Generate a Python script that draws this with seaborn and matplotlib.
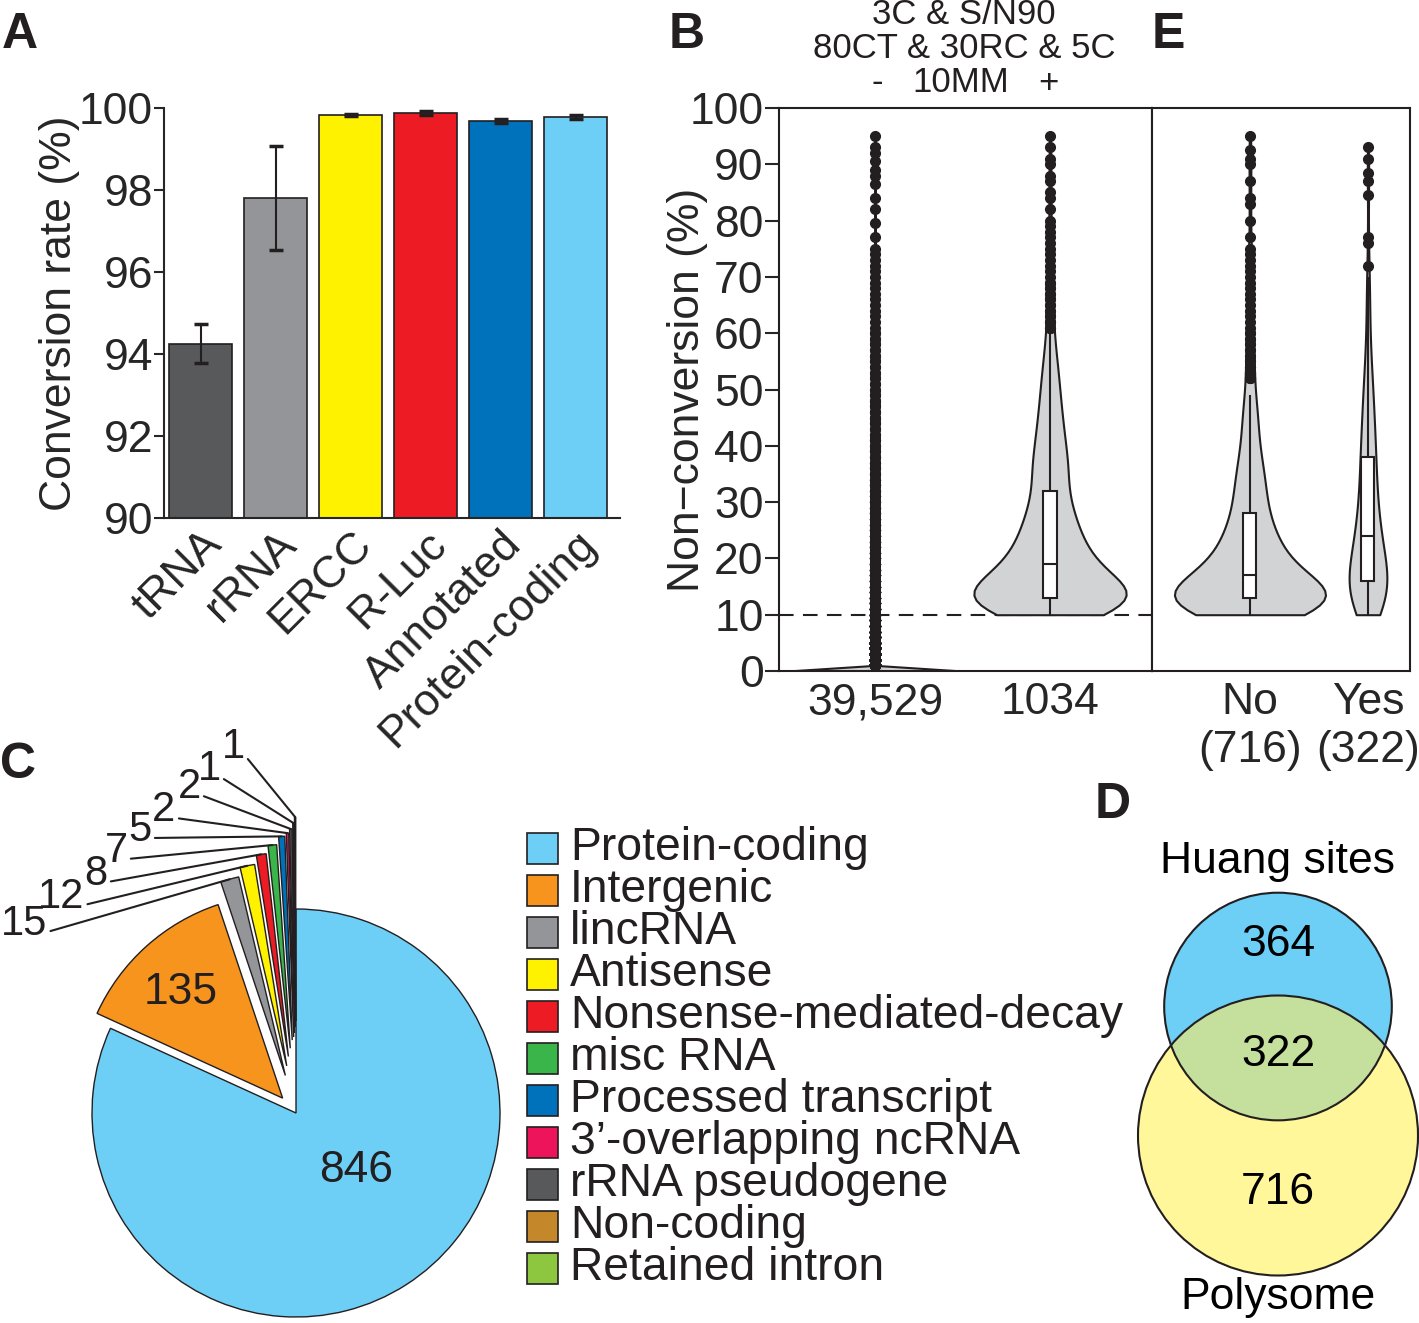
import numpy as np
import pandas as pd
import matplotlib

matplotlib.use("Agg")
import matplotlib.pyplot as plt
from matplotlib.patches import Circle, Rectangle
import seaborn as sns

# --- A: conversion rate per RNA class ---
conv_labels = ["tRNA", "rRNA", "ERCC", "R-Luc", "Annotated", "Protein-coding"]
conv_rate = [94.25, 97.8, 99.83, 99.88, 99.68, 99.78]
conv_err = [0.47, 1.27, 0.03, 0.04, 0.05, 0.05]
conv_colors = ["#58595b", "#939598", "#fff200", "#ed1c24", "#0072bc", "#6dcff6"]

# --- B: non-conversion (%) per site, binned counts ---
b_labels = ["39,529", "1034"]
b0_values = [0, 1, 2, 3, 4, 5, 6, 7, 8, 9, 10,
             11, 12, 13, 14, 15, 16, 17, 18, 19, 20,
             21, 22, 23, 24, 25, 26, 27, 28, 29, 30,
             31, 32, 33, 34, 35, 36, 37, 38, 39, 40,
             41, 42, 43, 44, 45, 46, 47, 48, 49, 50,
             51, 52, 53, 54, 55, 56, 57, 58, 59, 60,
             61, 62, 63, 64, 65, 66, 67, 68, 69, 70,
             71, 72, 73, 74, 75, 77, 79.5, 82, 84, 86.5, 88, 89, 90.5, 92, 93, 95]
b0_counts = [36944, 620, 420, 300, 220, 160, 120, 95, 75, 60, 50,
             42, 36, 31, 27, 24, 21, 19, 17, 15, 14,
             13, 12, 11, 10, 9, 9, 8, 8, 7, 7,
             6, 6, 6, 5, 5, 5, 5, 4, 4, 4,
             4, 3, 3, 3, 3, 3, 3, 3, 2, 2,
             2, 2, 2, 2, 2, 2, 2, 2, 2, 2,
             1, 1, 1, 1, 1, 1, 1, 1, 1, 1,
             1, 1, 1, 1, 1, 1, 1, 1, 1, 1, 1, 1, 1, 1, 1, 1]
b1_values = [10, 11, 12, 13, 14, 15, 16, 17, 18, 19, 20, 21, 22, 23, 24, 25, 26, 27, 28, 29, 30, 31, 32,
             34, 36, 38, 40, 42, 44, 46, 48, 50, 52, 54, 56, 58,
             60, 61, 62, 63, 64, 65, 66, 67, 68, 69, 70, 71, 72, 73, 74, 75, 76, 77, 78, 79, 80,
             82, 84, 85, 87, 88, 90, 91, 93, 95]
b1_counts = [46, 70, 80, 75, 62, 52, 44, 38, 34, 30, 28, 26, 24, 22, 21, 20, 18, 17, 16, 15, 14, 13, 12,
             28, 25, 23, 21, 19, 17, 16, 14, 13, 12, 10, 9, 7,
             3, 3, 3, 2, 2, 2, 2, 2, 2, 2, 1, 1, 1, 1, 1, 1, 1, 1, 1, 1, 1,
             1, 1, 1, 1, 1, 1, 1, 1, 1]

# --- E: sites also found by Huang et al. (No / Yes) ---
e_labels = ["No\n(716)", "Yes\n(322)"]
e_no_values = [10, 11, 12, 13, 14, 15, 16, 17, 18, 19, 20, 21, 22, 23, 24, 25, 26, 27, 28,
               30, 32, 34, 36, 38, 40, 43, 46, 49,
               52, 53, 54, 55, 56, 57, 58, 59, 60, 61, 62, 63, 64, 65, 66, 67, 68, 69, 70, 71, 72, 73, 74, 75,
               77, 80, 83, 84, 87, 90, 91, 92.5, 95]
e_no_counts = [39, 55, 65, 62, 50, 40, 33, 27, 23, 22, 20, 18, 16, 15, 14, 13, 12, 11, 12,
               19, 17, 16, 14, 12, 11, 14, 12, 9,
               3, 3, 3, 2, 2, 2, 2, 2, 2, 1, 1, 1, 1, 1, 1, 1, 1, 1, 1, 1, 1, 1, 1, 1,
               1, 1, 1, 1, 1, 1, 1, 1, 1]
e_yes_values = [10, 12, 14, 16, 18, 20, 22, 24, 26, 28, 30, 32, 34, 36, 38, 40, 42, 44, 46, 48,
                50, 52, 54, 56, 58, 60, 62, 64, 66, 68, 70, 72, 76, 77, 84.5, 87, 88.5, 91, 93]
e_yes_counts = [16, 24, 30, 26, 21, 20, 18, 15, 13, 12, 11, 10, 10, 9, 9, 9, 8, 7, 7, 6,
                6, 5, 4, 3, 3, 2, 2, 2, 2, 2, 2, 1, 1, 1, 1, 1, 1, 1, 1]

# --- C: biotypes of the 1034 sites ---
biotypes = ["Protein-coding", "Intergenic", "lincRNA", "Antisense", "Nonsense-mediated-decay",
            "misc RNA", "Processed transcript", "3\u2019-overlapping ncRNA", "rRNA pseudogene",
            "Non-coding", "Retained intron"]
biotype_counts = [846, 135, 15, 12, 8, 7, 5, 2, 2, 1, 1]
biotype_colors = ["#6dcff6", "#f7941d", "#939598", "#fff200", "#ed1c24", "#39b54a", "#0072bc",
                  "#ed145b", "#58595b", "#c4882b", "#8dc63f"]

# --- D: overlap with Huang sites ---
venn_sets = ["Huang sites", "Polysome"]
huang_only, shared, polysome_only = 364, 322, 716

W, H = 1419, 1323
INK = "#231f20"

sns.set_style("ticks")
plt.rcParams["font.family"] = ["Liberation Sans", "DejaVu Sans"]
plt.rcParams["axes.linewidth"] = 1.5

fig = plt.figure(figsize=(W / 100, H / 100), dpi=100)


def px_axes(left, top, right, bottom):
    return fig.add_axes([left / W, 1 - bottom / H, (right - left) / W, (bottom - top) / H])


# ---------------- A ----------------
axA = px_axes(164, 108, 620, 518)
sns.barplot(x=conv_labels, y=conv_rate, hue=conv_labels, palette=conv_colors, legend=False,
            saturation=1, width=0.84, edgecolor=INK, linewidth=1.2, errorbar=None, ax=axA)
axA.errorbar(range(len(conv_labels)), conv_rate, yerr=conv_err, fmt="none", ecolor=INK,
             elinewidth=1.5, capsize=5, capthick=2.5)
axA.set_ylim(90, 100)
axA.set_xlim(-0.487, 5.593)
axA.set_yticks([90, 92, 94, 96, 98, 100])
axA.tick_params(axis="y", labelsize=32, length=7, width=1.5, pad=1)
axA.set_xticks(range(len(conv_labels)))
axA.set_xticklabels(conv_labels, rotation=45, ha="right", va="top", rotation_mode="anchor", fontsize=32)
axA.tick_params(axis="x", length=0, pad=4)
axA.set_xlabel("")
axA.set_ylabel("Conversion rate (%)", fontsize=32, va="center")
axA.yaxis.set_label_coords((60 - 164) / 456, 0.5)
sns.despine(ax=axA)

# ---------------- B ----------------
dfB = pd.DataFrame({
    "group": [b_labels[0]] * sum(b0_counts) + [b_labels[1]] * sum(b1_counts),
    "value": np.concatenate([np.repeat(b0_values, b0_counts), np.repeat(b1_values, b1_counts)]),
})
dfE = pd.DataFrame({
    "group": [e_labels[0]] * sum(e_no_counts) + [e_labels[1]] * sum(e_yes_counts),
    "value": np.concatenate([np.repeat(e_no_values, e_no_counts), np.repeat(e_yes_values, e_yes_counts)]),
})

violin_kws = dict(x="group", y="value", color="#d1d3d4", saturation=1, linecolor=INK,
                  linewidth=1.5, inner=None, cut=0, bw_adjust=0.85, density_norm="width")
box_kws = dict(x="group", y="value", color="white", saturation=1, linecolor=INK, linewidth=1.5,
               showcaps=False, fliersize=7,
               flierprops=dict(marker="o", markerfacecolor=INK, markeredgecolor=INK))

axB = px_axes(779, 108, 1152, 671)
axB.axhline(10, color=INK, lw=1.5, ls=(0, (7, 4.5)), zorder=0)
for lab, vw in zip(b_labels, [1.0, 0.87]):
    sns.violinplot(data=dfB[dfB.group == lab], order=b_labels, width=vw, ax=axB, **violin_kws)
sns.boxplot(data=dfB, order=b_labels, width=0.08, ax=axB, **box_kws)
axB.set_xlim(-0.549, 1.583)
axB.set_ylim(0, 100)
axB.set_yticks(range(0, 101, 10))
axB.tick_params(axis="y", labelsize=32, length=10, width=1.5, pad=1)
axB.tick_params(axis="x", labelsize=32, length=0, pad=8)
axB.set_xlabel("")
axB.set_ylabel("Non\u2212conversion (%)", fontsize=32, va="center")
axB.yaxis.set_label_coords((688 - 779) / 373, 0.5)

# ---------------- E ----------------
axE = px_axes(1152, 108, 1410, 671)
for lab, vw in zip(e_labels, [1.28, 0.32]):
    sns.violinplot(data=dfE[dfE.group == lab], order=e_labels, width=vw, ax=axE, **violin_kws)
sns.boxplot(data=dfE, order=e_labels, width=0.11, ax=axE, **box_kws)
axE.set_xlim(-0.830, 1.356)
axE.set_ylim(0, 100)
axE.tick_params(axis="y", left=False, labelleft=False)
axE.tick_params(axis="x", labelsize=32, length=0, pad=8)
axE.set_xlabel("")
axE.set_ylabel("")
for ax in (axB, axE):
    for sp in ax.spines.values():
        sp.set_visible(True)
        sp.set_linewidth(1.5)
        sp.set_color(INK)

# ---------------- overlay: C pie, legend, D venn, labels ----------------
ov = fig.add_axes([0, 0, 1, 1])
pie_center = (296, H - 1113)
pie_radius = 204
pie_explode = [0, 20, 39, 48, 57, 65, 73, 76, 80, 86, 92]
wedges, _ = ov.pie(biotype_counts, colors=biotype_colors, startangle=90, counterclock=False,
                   explode=pie_explode, radius=pie_radius, center=pie_center,
                   wedgeprops=dict(edgecolor=INK, linewidth=1.0))
ov.set_aspect("auto")
ov.set_xlim(0, W)
ov.set_ylim(0, H)
ov.axis("off")

ov.text(181, H - 993, str(biotype_counts[1]), ha="center", va="center", fontsize=32, color=INK)
ov.text(356, H - 1170, str(biotype_counts[0]), ha="center", va="center", fontsize=32, color=INK)

# staircase of labels for the small slices
small_label_xy = [(24, 924), (61, 897), (96, 874), (116, 851), (140, 830),
                  (164, 810), (189, 787), (209, 769), (233, 747)]
for w, n, (lx, ly) in zip(wedges[2:], biotype_counts[2:], small_label_xy):
    mid = np.deg2rad((w.theta1 + w.theta2) / 2)
    tip = (w.center[0] + w.r * np.cos(mid), w.center[1] + w.r * np.sin(mid))
    ov.annotate(str(n), xy=tip, xytext=(lx, H - ly), ha="center", va="center", fontsize=30,
                color=INK, arrowprops=dict(arrowstyle="-", color=INK, lw=1.5, shrinkA=0, shrinkB=0,
                                           relpos=(1.0, 0.3)))

# legend
for i, (name, col) in enumerate(zip(biotypes, biotype_colors)):
    y = 848 + 42 * i
    ov.add_patch(Rectangle((527, H - y - 15.5), 31, 31, facecolor=col, edgecolor=INK, lw=1.2))
    ov.text(570, H - y, name, ha="left", va="center", fontsize=33.3, color=INK)

# Venn, circle areas proportional to set sizes
huang_total = huang_only + shared
poly_total = polysome_only + shared
scale = 140 / np.sqrt(poly_total)
r_poly = scale * np.sqrt(poly_total)
r_huang = scale * np.sqrt(huang_total)


def lens_area(d, r1, r2):
    a1 = r1 ** 2 * np.arccos((d ** 2 + r1 ** 2 - r2 ** 2) / (2 * d * r1))
    a2 = r2 ** 2 * np.arccos((d ** 2 + r2 ** 2 - r1 ** 2) / (2 * d * r2))
    a3 = 0.5 * np.sqrt((-d + r1 + r2) * (d + r1 - r2) * (d - r1 + r2) * (d + r1 + r2))
    return a1 + a2 - a3


target = np.pi * scale ** 2 * shared
lo, hi = abs(r_poly - r_huang) + 1e-6, r_poly + r_huang - 1e-6
for _ in range(60):
    mid_d = (lo + hi) / 2
    if lens_area(mid_d, r_huang, r_poly) > target:
        lo = mid_d
    else:
        hi = mid_d
dist = (lo + hi) / 2

poly_c = (1278, H - 1135.5)
huang_c = (1278, poly_c[1] + dist)
poly_circ = Circle(poly_c, r_poly, facecolor="#fff799", edgecolor="none")
huang_circ = Circle(huang_c, r_huang, facecolor="#6dcff6", edgecolor="none")
ov.add_patch(poly_circ)
ov.add_patch(huang_circ)
lens = Circle(huang_c, r_huang, facecolor="#c5df9c", edgecolor="none")
ov.add_patch(lens)
lens.set_clip_path(poly_circ)
ov.add_patch(Circle(poly_c, r_poly, fill=False, edgecolor=INK, lw=1.5))
ov.add_patch(Circle(huang_c, r_huang, fill=False, edgecolor=INK, lw=1.5))
ov.text(1278, H - 945, str(huang_only), ha="center", va="center", fontsize=32, color="black")
ov.text(1278, H - 1055, str(shared), ha="center", va="center", fontsize=32, color="black")
ov.text(1278, H - 1192, str(polysome_only), ha="center", va="center", fontsize=32, color="black")
ov.text(1278, H - 862, venn_sets[0], ha="center", va="center", fontsize=32, color="black")
ov.text(1278, H - 1298, venn_sets[1], ha="center", va="center", fontsize=32, color="black")

# header of panel B
ov.text(964, H - 14, "3C & S/N90", ha="center", va="center", fontsize=25, color=INK)
ov.text(964, H - 49, "80CT & 30RC & 5C", ha="center", va="center", fontsize=25, color=INK)
ov.text(877, H - 83, "-", ha="center", va="center", fontsize=25, color=INK)
ov.text(961, H - 83, "10MM", ha="center", va="center", fontsize=25, color=INK)
ov.text(1048, H - 83, "+", ha="center", va="center", fontsize=25, color=INK)

# panel letters
for letter, (x, y) in {"A": (20, 35), "B": (687, 35), "E": (1168, 35),
                       "C": (18, 765), "D": (1113, 805)}.items():
    ov.text(x, H - y, letter, ha="center", va="center", fontsize=36, fontweight="bold", color=INK)

fig.savefig("out.png", dpi=100)
